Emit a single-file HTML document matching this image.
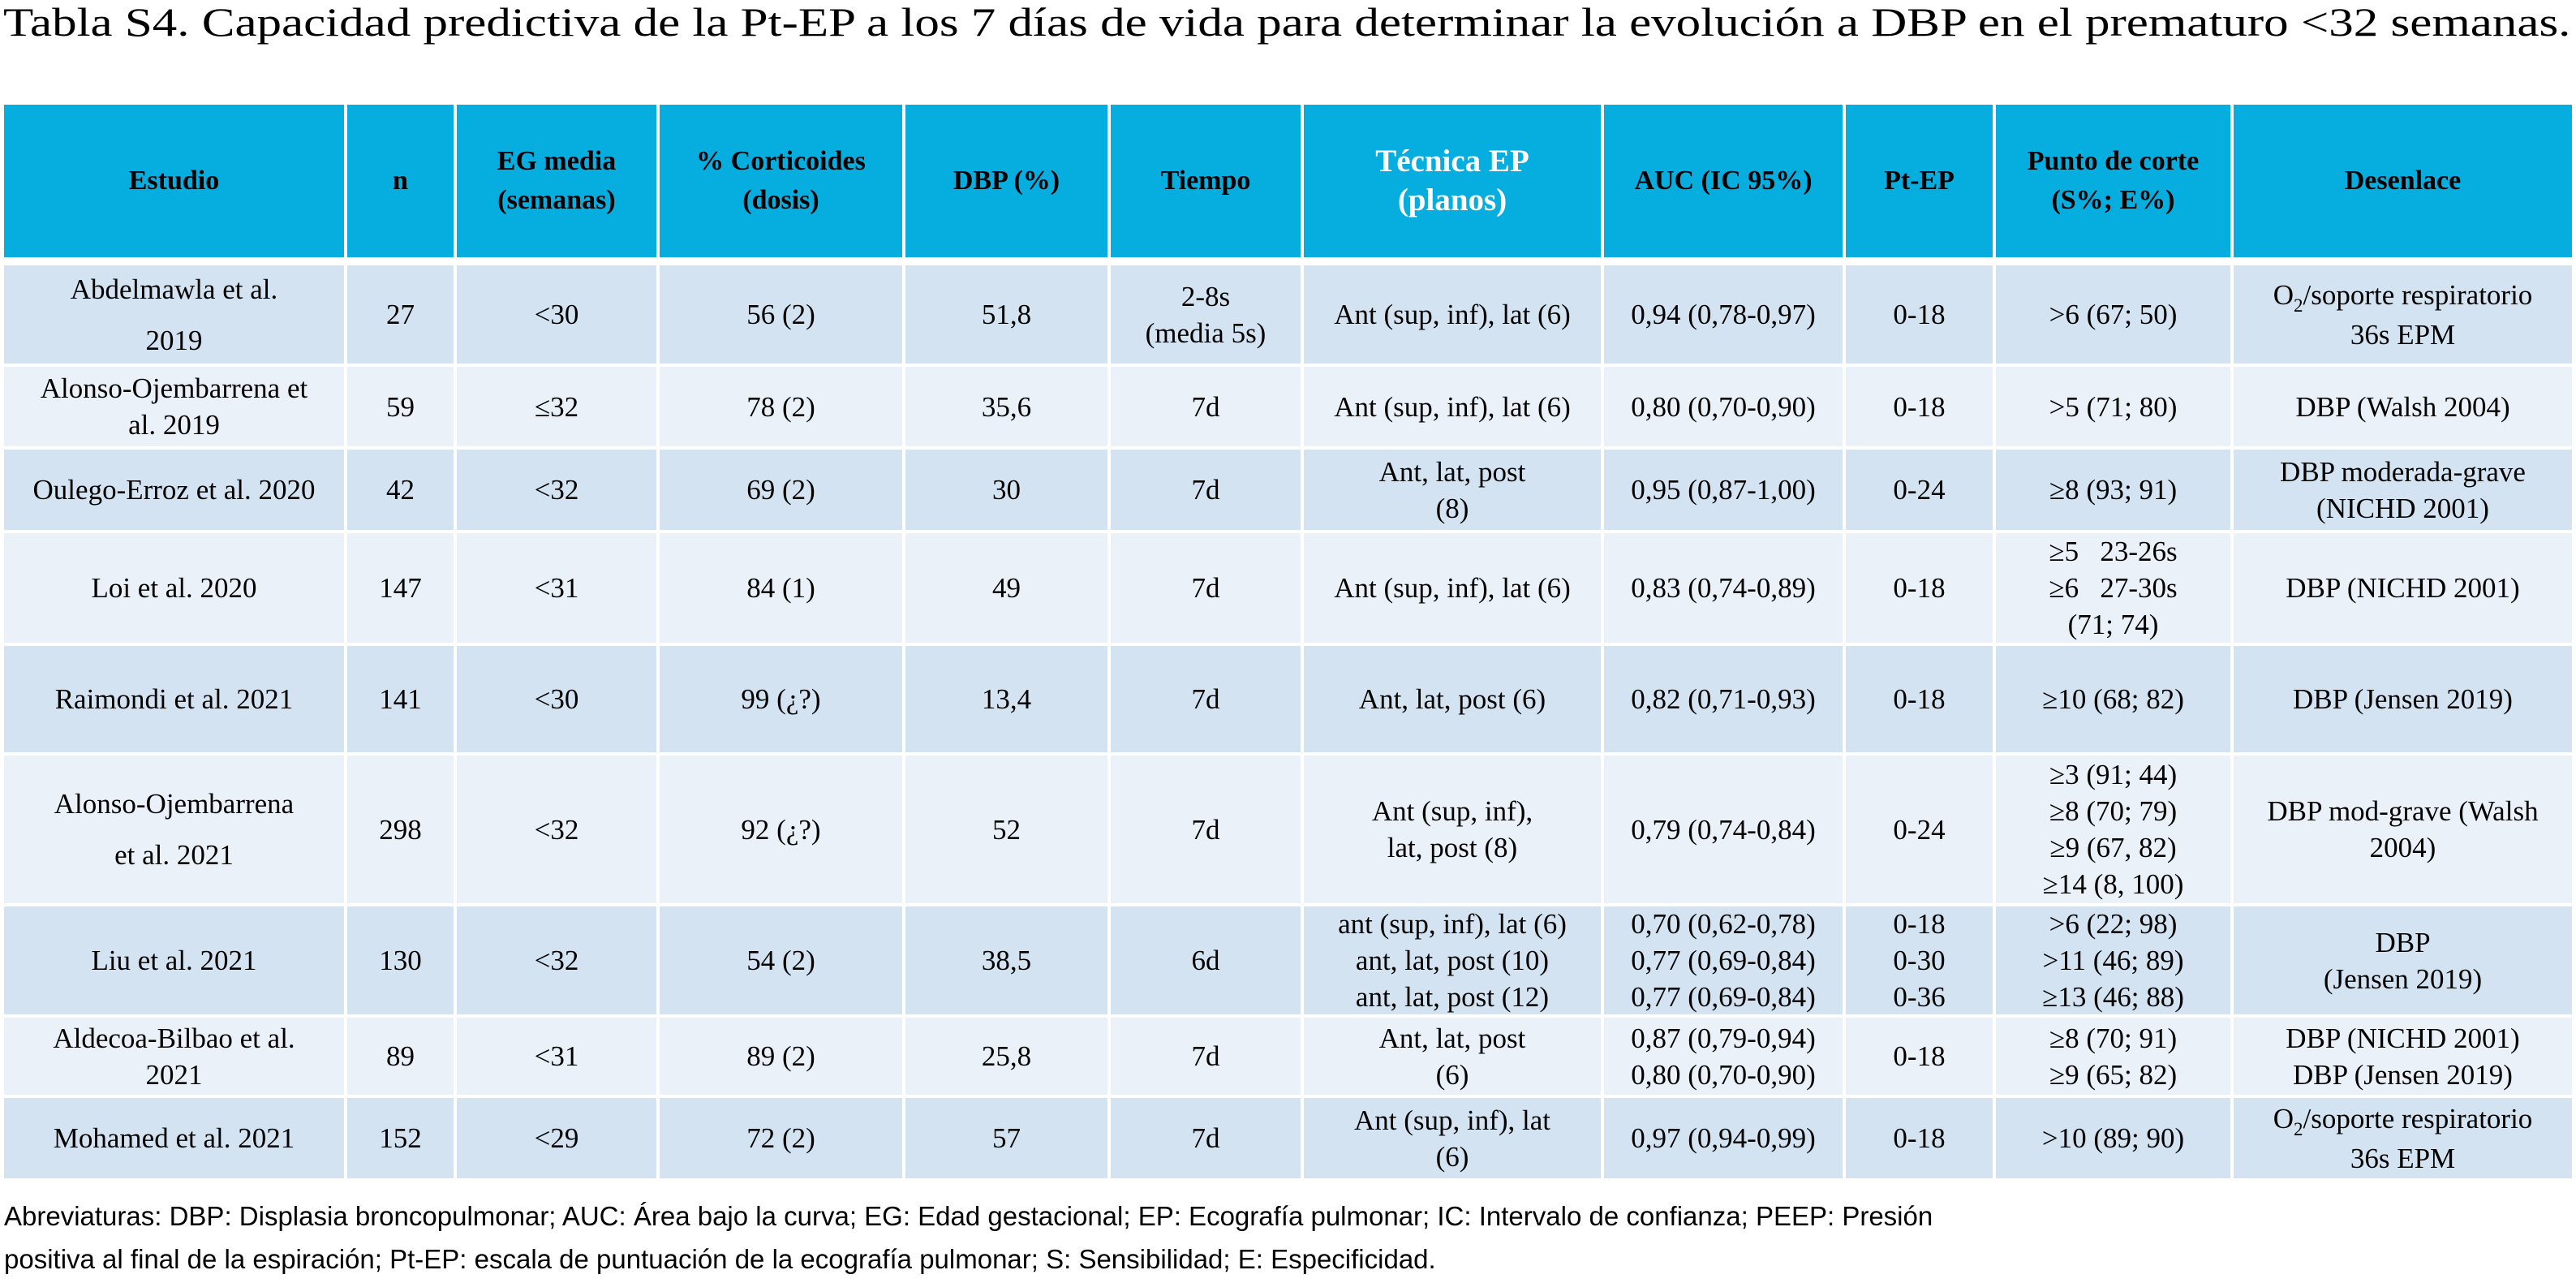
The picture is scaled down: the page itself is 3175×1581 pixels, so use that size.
<!DOCTYPE html>
<html><head><meta charset="utf-8">
<style>
body{margin:0;width:3175px;height:1581px;background:#fff;position:relative;overflow:hidden;font-family:"Liberation Serif",serif;color:#000}
#title{position:absolute;left:4px;top:2px;font-size:50px;line-height:50px;white-space:nowrap;transform-origin:0 0;transform:scaleX(1.22)}
.grid{position:absolute;left:5px;display:grid;column-gap:4px;row-gap:4px;grid-template-columns:419px 131px 246px 299px 249px 234px 366px 294px 181px 289px 417px}
#hdr{top:129px;grid-template-rows:188px}
#body{top:327px;grid-template-rows:121px 98px 99px 135px 131px 182px 133px 95px 99px}
.grid>div{display:flex;align-items:center;justify-content:center;text-align:center;font-size:35px;line-height:45px}
#hdr>div{background:#05AEDF;font-weight:bold;font-size:34px;line-height:48px}
#hdr>div.w{color:#fff;font-size:39px}
.o{background:#D3E3F2}.e{background:#EAF1F9}
.lh{line-height:63px!important}
#foot{position:absolute;left:5px;top:1472px;font-family:"Liberation Sans",sans-serif;font-size:33px;line-height:53px;white-space:nowrap}
.s{font-size:23px;position:relative;top:9px}
</style></head><body>
<div id="title">Tabla S4. Capacidad predictiva de la Pt-EP a los 7 días de vida para determinar la evolución a DBP en el prematuro &lt;32 semanas.</div>
<div class="grid" id="hdr">
<div>Estudio</div>
<div>n</div>
<div>EG media<br>(semanas)</div>
<div>% Corticoides<br>(dosis)</div>
<div>DBP (%)</div>
<div>Tiempo</div>
<div class="w">Técnica EP<br>(planos)</div>
<div>AUC (IC 95%)</div>
<div>Pt-EP</div>
<div>Punto de corte<br>(S%; E%)</div>
<div>Desenlace</div>
</div>
<div class="grid" id="body">
<div class="o lh">Abdelmawla et al.<br>2019</div><div class="o">27</div><div class="o">&lt;30</div><div class="o">56 (2)</div><div class="o">51,8</div><div class="o">2-8s<br>(media 5s)</div><div class="o">Ant (sup, inf), lat (6)</div><div class="o">0,94 (0,78-0,97)</div><div class="o">0-18</div><div class="o">&gt;6 (67; 50)</div><div class="o"><span>O<span class="s">2</span>/soporte respiratorio<br>36s EPM</span></div>

<div class="e">Alonso-Ojembarrena et<br>al. 2019</div><div class="e">59</div><div class="e">≤32</div><div class="e">78 (2)</div><div class="e">35,6</div><div class="e">7d</div><div class="e">Ant (sup, inf), lat (6)</div><div class="e">0,80 (0,70-0,90)</div><div class="e">0-18</div><div class="e">&gt;5 (71; 80)</div><div class="e">DBP (Walsh 2004)</div>

<div class="o">Oulego-Erroz et al. 2020</div><div class="o">42</div><div class="o">&lt;32</div><div class="o">69 (2)</div><div class="o">30</div><div class="o">7d</div><div class="o">Ant, lat, post<br>(8)</div><div class="o">0,95 (0,87-1,00)</div><div class="o">0-24</div><div class="o">≥8 (93; 91)</div><div class="o">DBP moderada-grave<br>(NICHD 2001)</div>

<div class="e">Loi et al. 2020</div><div class="e">147</div><div class="e">&lt;31</div><div class="e">84 (1)</div><div class="e">49</div><div class="e">7d</div><div class="e">Ant (sup, inf), lat (6)</div><div class="e">0,83 (0,74-0,89)</div><div class="e">0-18</div><div class="e">≥5&nbsp;&nbsp; 23-26s<br>≥6&nbsp;&nbsp; 27-30s<br>(71; 74)</div><div class="e">DBP (NICHD 2001)</div>

<div class="o">Raimondi et al. 2021</div><div class="o">141</div><div class="o">&lt;30</div><div class="o">99 (¿?)</div><div class="o">13,4</div><div class="o">7d</div><div class="o">Ant, lat, post (6)</div><div class="o">0,82 (0,71-0,93)</div><div class="o">0-18</div><div class="o">≥10 (68; 82)</div><div class="o">DBP (Jensen 2019)</div>

<div class="e lh">Alonso-Ojembarrena<br>et al. 2021</div><div class="e">298</div><div class="e">&lt;32</div><div class="e">92 (¿?)</div><div class="e">52</div><div class="e">7d</div><div class="e">Ant (sup, inf),<br>lat, post (8)</div><div class="e">0,79 (0,74-0,84)</div><div class="e">0-24</div><div class="e">≥3 (91; 44)<br>≥8 (70; 79)<br>≥9 (67, 82)<br>≥14 (8, 100)</div><div class="e">DBP mod-grave (Walsh<br>2004)</div>

<div class="o">Liu et al. 2021</div><div class="o">130</div><div class="o">&lt;32</div><div class="o">54 (2)</div><div class="o">38,5</div><div class="o">6d</div><div class="o">ant (sup, inf), lat (6)<br>ant, lat, post (10)<br>ant, lat, post (12)</div><div class="o">0,70 (0,62-0,78)<br>0,77 (0,69-0,84)<br>0,77 (0,69-0,84)</div><div class="o">0-18<br>0-30<br>0-36</div><div class="o">&gt;6 (22; 98)<br>&gt;11 (46; 89)<br>≥13 (46; 88)</div><div class="o">DBP<br>(Jensen 2019)</div>

<div class="e">Aldecoa-Bilbao et al.<br>2021</div><div class="e">89</div><div class="e">&lt;31</div><div class="e">89 (2)</div><div class="e">25,8</div><div class="e">7d</div><div class="e">Ant, lat, post<br>(6)</div><div class="e">0,87 (0,79-0,94)<br>0,80 (0,70-0,90)</div><div class="e">0-18</div><div class="e">≥8 (70; 91)<br>≥9 (65; 82)</div><div class="e">DBP (NICHD 2001)<br>DBP (Jensen 2019)</div>

<div class="o">Mohamed et al. 2021</div><div class="o">152</div><div class="o">&lt;29</div><div class="o">72 (2)</div><div class="o">57</div><div class="o">7d</div><div class="o">Ant (sup, inf), lat<br>(6)</div><div class="o">0,97 (0,94-0,99)</div><div class="o">0-18</div><div class="o">&gt;10 (89; 90)</div><div class="o"><span>O<span class="s">2</span>/soporte respiratorio<br>36s EPM</span></div>
</div>
<div id="foot">Abreviaturas: DBP: Displasia broncopulmonar; AUC: Área bajo la curva; EG: Edad gestacional; EP: Ecografía pulmonar; IC: Intervalo de confianza; PEEP: Presión<br>positiva al final de la espiración; Pt-EP: escala de puntuación de la ecografía pulmonar; S: Sensibilidad; E: Especificidad.</div>
</body></html>
